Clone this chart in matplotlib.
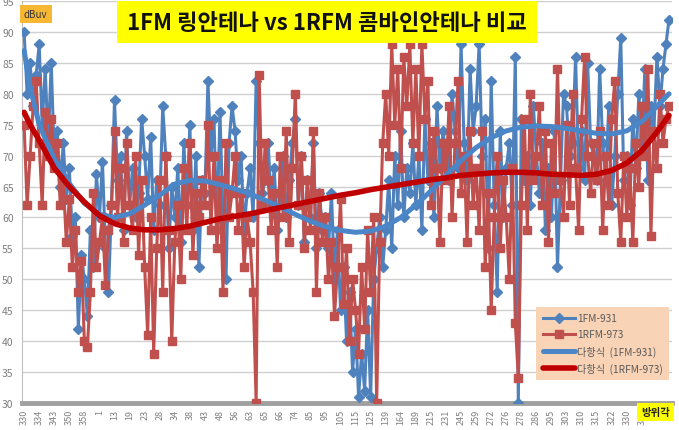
import matplotlib
matplotlib.use("Agg")
import matplotlib.pyplot as plt

plt.rcParams['font.family'] = ['Noto Sans CJK KR', 'DejaVu Sans']

# azimuth labels shown on the category axis (one every 5 samples)
tick_labels = ['330', '334', '343', '350', '358', '1', '13', '19', '23', '28',
               '34', '38', '43', '48', '56', '63', '65', '66', '74', '85',
               '95', '105', '115', '125', '139', '164', '189', '215', '231', '245',
               '259', '272', '276', '278', '286', '295', '303', '310', '315', '322',
               '330', '337']
label_step = 5

# 1FM-931 (ring antenna), dBuv
fm931 = [90, 80, 85, 78, 83, 88, 75, 84, 72, 85,
         70, 74, 65, 72, 63, 68, 57, 60, 42, 54,
         50, 44, 58, 52, 67, 60, 69, 55, 48, 62,
         79, 66, 70, 58, 74, 62, 68, 60, 64, 76,
         70, 63, 73, 58, 66, 62, 78, 70, 55, 65,
         60, 68, 56, 72, 62, 75, 58, 70, 52, 66,
         64, 82, 70, 76, 58, 77, 60, 50, 72, 78,
         74, 66, 70, 58, 64, 68, 60, 82, 72, 64,
         66, 72, 62, 68, 58, 64, 70, 60, 66, 72,
         76, 62, 70, 56, 66, 60, 72, 55, 64, 58,
         60, 55, 64, 50, 58, 45, 52, 40, 48, 35,
         42, 31, 38, 32, 45, 31, 50, 55, 60, 52,
         58, 66, 55, 70, 62, 74, 60, 68, 64, 72,
         62, 70, 58, 76, 66, 72, 60, 78, 68, 74,
         70, 66, 80, 74, 68, 88, 72, 66, 84, 74,
         78, 88, 70, 76, 55, 82, 62, 48, 74, 60,
         68, 72, 62, 86, 30, 76, 66, 70, 62, 78,
         70, 64, 72, 58, 68, 60, 74, 52, 66, 80,
         78, 70, 72, 86, 68, 74, 66, 85, 72, 70,
         66, 84, 72, 66, 78, 62, 70, 80, 89, 66,
         70, 62, 76, 68, 80, 72, 84, 66, 78, 74,
         86, 78, 84, 88, 92]

# 1RFM-973 (combine antenna), dBuv
rfm973 = [75, 62, 70, 78, 82, 72, 62, 77, 70, 76,
          68, 72, 62, 66, 56, 63, 52, 58, 48, 53,
          40, 39, 48, 64, 52, 56, 60, 49, 58, 62,
          74, 60, 68, 56, 72, 62, 58, 70, 54, 66,
          52, 41, 60, 38, 55, 66, 48, 70, 58, 40,
          56, 62, 50, 68, 58, 72, 54, 64, 60, 66,
          62, 75, 58, 70, 55, 66, 48, 72, 60, 64,
          70, 58, 64, 52, 60, 56, 48, 30, 83, 62,
          72, 66, 58, 64, 52, 70, 60, 74, 56, 68,
          80, 62, 70, 55, 66, 58, 74, 48, 64, 56,
          60, 50, 56, 44, 52, 63, 46, 55, 40, 50,
          45, 38, 52, 42, 58, 48, 60, 30, 56, 72,
          80, 70, 88, 75, 84, 68, 86, 78, 88, 72,
          84, 70, 88, 76, 82, 62, 74, 68, 56, 72,
          66, 78, 60, 72, 82, 64, 70, 56, 74, 62,
          68, 58, 74, 52, 64, 45, 60, 70, 55, 66,
          60, 50, 68, 43, 34, 62, 76, 58, 80, 66,
          70, 78, 62, 74, 56, 72, 64, 84, 66, 60,
          75, 62, 80, 68, 58, 76, 86, 70, 64, 72,
          66, 74, 58, 70, 62, 76, 82, 64, 56, 70,
          60, 68, 56, 72, 65, 78, 70, 84, 57, 74,
          68, 80, 72, 76, 78]

# polynomial trend lines (sample index -> dBuv)
trend_idx = [0, 2, 5, 10, 15, 20, 25, 30, 35, 40, 45, 50, 55, 60, 65, 70, 75,
             80, 85, 90, 95, 100, 105, 110, 115, 120, 125, 130, 135, 140, 145,
             150, 155, 160, 165, 170, 175, 180, 185, 190, 195, 200, 205, 210, 214]
trend_fm = [87, 81, 75, 69.5, 65.5, 62.3, 60.5, 60.0, 60.6, 62, 63.6, 65.4,
            66.0, 65.9, 65.3, 64.6, 63.8, 62.8, 61.7, 60.5, 59.4, 58.5, 57.9,
            57.6, 57.8, 58.6, 60, 62, 64.3, 66.8, 69.2, 71.3, 72.9, 74, 74.6,
            74.8, 74.7, 74.4, 74, 73.6, 73.5, 74, 75.5, 78, 80]
trend_rfm = [77, 75, 72.5, 68, 65, 62.5, 60.3, 59, 58.3, 58, 58, 58.2, 58.6,
             59.2, 59.8, 60.2, 60.6, 61.1, 61.6, 62.1, 62.6, 63.1, 63.6, 64,
             64.5, 64.9, 65.3, 65.7, 66.1, 66.4, 66.8, 67, 67.2, 67.3, 67.3,
             67.2, 67.0, 66.9, 66.8, 67, 67.6, 68.8, 70.8, 73.8, 76.5]

x = list(range(len(fm931)))

fig = plt.figure(figsize=(6.79, 4.31), dpi=100)
ax = fig.add_axes([22 / 679, 1 - 404 / 431, 650 / 679, 402 / 431])

ax.plot(x, fm931, color='#4f81bd', lw=2.2, marker='D', ms=5,
        label='1FM-931', zorder=3)
ax.plot(x, rfm973, color='#c0504d', lw=2.2, marker='s', ms=6,
        label='1RFM-973', zorder=4)
ax.plot(trend_idx, trend_fm, color='#4a86c8', lw=3.6,
        label='다항식  (1FM-931)', zorder=5, solid_capstyle='round')
ax.plot(trend_idx, trend_rfm, color='#c00000', lw=4,
        label='다항식  (1RFM-973)', zorder=6, solid_capstyle='round')

ax.set_ylim(30, 95)
ax.set_xlim(-0.7, 215)
ax.set_yticks(range(30, 96, 5))
ax.set_xticks(range(0, len(tick_labels) * label_step, label_step))
ax.set_xticklabels(tick_labels, rotation=90, fontsize=6.5, color='#7f7f7f')
ax.tick_params(axis='x', length=0, pad=4)
ax.tick_params(axis='y', length=0, pad=6, labelsize=7.5, labelcolor='#7f7f7f')
ax.grid(axis='y', color='#d0d0d0', lw=1)
ax.set_axisbelow(True)
for s in ['top', 'right']:
    ax.spines[s].set_visible(False)
ax.spines['left'].set_color('#bfbfbf')
ax.spines['bottom'].set_color('#a0a0a0')
ax.spines['bottom'].set_linewidth(3.5)

leg = ax.legend(loc='lower right', bbox_to_anchor=(1.003, 0.045), fontsize=7.3,
                frameon=True, fancybox=False, handlelength=3.2,
                labelspacing=0.6, borderpad=0.6, handletextpad=0.2)
leg.get_frame().set_facecolor('#f9d3b5')
leg.get_frame().set_edgecolor('none')
leg.get_frame().set_alpha(1)
for t in leg.get_texts():
    t.set_color('#595959')

fig.text(127 / 679, 1 - 23 / 431,
         '1FM 링안테나 vs 1RFM 콤바인안테나 비교', fontsize=16,
         fontweight='bold', va='center', ha='left', color='#111111',
         bbox=dict(facecolor='#ffff00', edgecolor='none', pad=7))
fig.text(24 / 679, 1 - 15 / 431, 'dBuv', fontsize=7, va='center',
         ha='left', color='#333333',
         bbox=dict(facecolor='#f7b733', edgecolor='none', pad=3))
fig.text(641 / 679, 1 - 413 / 431, '방위각', fontsize=7.5, fontweight='bold',
         va='center', ha='left', color='#222222',
         bbox=dict(facecolor='#ffff00', edgecolor='none', pad=3))

fig.savefig('out.png', dpi=100)
